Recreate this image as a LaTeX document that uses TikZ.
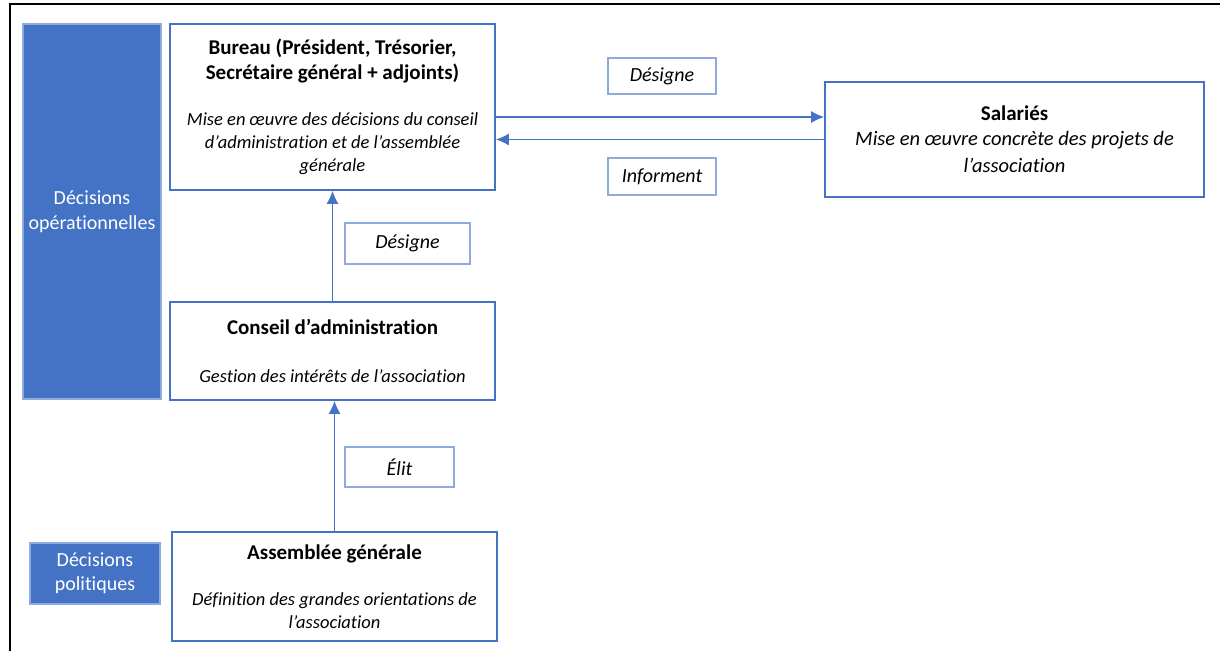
\documentclass[tikz,border=0pt]{standalone}
\usepackage{fontspec}
\setmainfont{Carlito}[Ligatures=NoCommon]
\usetikzlibrary{arrows, arrows.meta, positioning}
\definecolor{bleu}{HTML}{4472C4}
\definecolor{bleuclair}{HTML}{8FAADC}
\newcommand{\titre}[1]{{\fontsize{21}{23}\selectfont\bfseries #1}}
\tikzstyle{diredge}   = [draw=bleu, line width=1.2pt, -{Latex[length=13pt, width=12pt]}]
\tikzstyle{organe}    = [draw=bleu, line width=1.8pt, fill=white, inner sep=2pt, align=center]
\tikzstyle{etiquette} = [draw=bleuclair, line width=1.8pt, fill=white, inner sep=2pt, align=center, font=\fontsize{20}{22}\selectfont\itshape]
\tikzstyle{niveau}    = [draw=bleuclair, line width=1.5pt, fill=bleu, text=white, inner sep=2pt, align=center]

\begin{document}
\begin{tikzpicture}[
        x=1pt, y=-1pt,
        every node/.style={font=\fontsize{18.5}{23}\selectfont}
    ]

        \useasboundingbox (0,0) rectangle (1220,651);

        % Cadre
        \draw[line width=2pt] (10,651) -- (10,4) -- (1220,4);

        % Niveaux de decision
        \node[niveau, minimum width=138pt, minimum height=375pt, font=\fontsize{20}{25}\selectfont]
            (operationnel) at (92,211.5)
            {Décisions\\opérationnelles};

        \node[niveau, minimum width=130pt, minimum height=61pt, font=\fontsize{20}{24}\selectfont]
            (politique) at (95,573.5)
            {Décisions\\politiques};

        % Organes
        \node[organe, minimum width=325pt, minimum height=166pt]
            (bureau) at (332.5,107)
            {\titre{Bureau (Président, Trésorier,}\\[2pt]
             \titre{Secrétaire général + adjoints)}\\[23pt]
             \textit{Mise en œuvre des décisions du conseil}\\
             \textit{d’administration et de l’assemblée}\\
             \textit{générale}};

        \node[organe, minimum width=325pt, minimum height=98pt]
            (conseil) at (332.5,351)
            {\titre{Conseil d’administration}\\[25pt]
             \textit{Gestion des intérêts de l’association}};

        \node[organe, minimum width=325pt, minimum height=109pt]
            (assemblee) at (334.5,586.5)
            {\titre{Assemblée générale}\\[23pt]
             \textit{Définition des grandes orientations de}\\
             \textit{l’association}};

        \node[organe, minimum width=379pt, minimum height=115pt, font=\fontsize{20.5}{25}\selectfont]
            (salaries) at (1014.5,139.5)
            {\titre{Salariés}\\
             \textit{Mise en œuvre concrète des projets de}\\[2pt]
             \textit{l’association}};

        % Etiquettes
        \node[etiquette, minimum width=108pt, minimum height=36pt]
            (designe1) at (662,76) {Désigne};

        \node[etiquette, minimum width=108pt, minimum height=37pt]
            (informent) at (662,176.5) {Informent};

        \node[etiquette, minimum width=125pt, minimum height=41pt]
            (designe2) at (407.5,243.5) {Désigne};

        \node[etiquette, minimum width=109pt, minimum height=40pt]
            (elit) at (399.5,467) {Élit};

        % Fleches
        \draw[diredge]
            ([yshift=-10pt]bureau.east) --
            ([yshift=-10pt]bureau.east -| salaries.west);

        \draw[diredge]
            (salaries.west) -- (salaries.west -| bureau.east);

        \draw[diredge]
            (conseil) -- (bureau);

        \draw[diredge]
            (assemblee.north) -- (assemblee.north |- conseil.south);

    \end{tikzpicture}
\end{document}
